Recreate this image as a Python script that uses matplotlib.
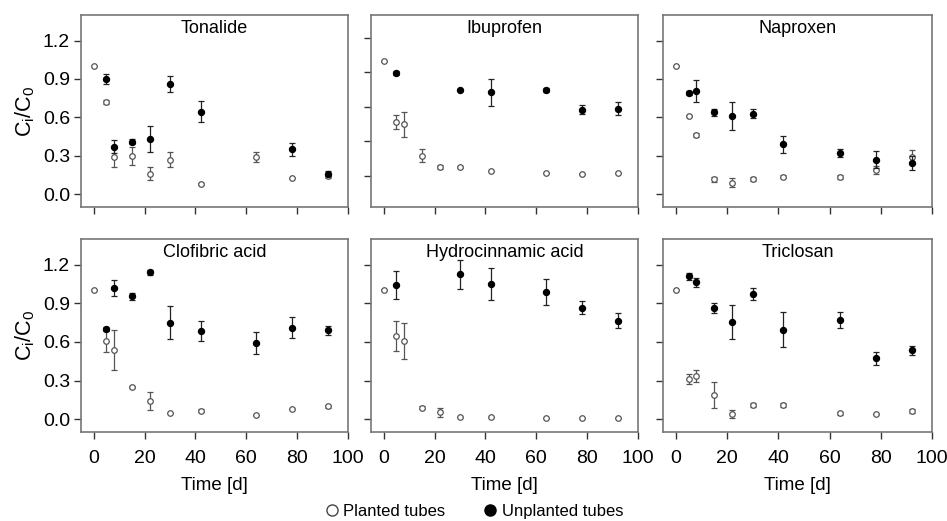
import numpy as np
import matplotlib.pyplot as plt
from matplotlib.lines import Line2D

plt.rcParams['font.family'] = ['Liberation Sans', 'DejaVu Sans']
plt.rcParams['mathtext.default'] = 'regular'

nan = np.nan

# sampling days (same for every compound)
days = [0, 5, 8, 15, 22, 30, 42, 64, 78, 92]

# Ci/C0 means and error bars, planted / unplanted tubes
tonalide_pl = [1.00, 0.72, 0.29, 0.30, 0.16, 0.27, 0.08, 0.29, 0.13, 0.14]
tonalide_pl_err = [0, 0.015, 0.08, 0.07, 0.05, 0.06, 0.01, 0.04, 0, 0.015]
tonalide_un = [nan, 0.90, 0.37, 0.41, 0.43, 0.86, 0.645, nan, 0.35, 0.16]
tonalide_un_err = [0, 0.04, 0.05, 0.02, 0.10, 0.06, 0.08, 0, 0.05, 0.02]

ibuprofen_pl = [1.00, 0.47, 0.45, 0.176, 0.078, 0.078, 0.043, 0.026, 0.02, 0.029]
ibuprofen_pl_err = [0, 0.058, 0.11, 0.057, 0.02, 0.01, 0, 0, 0, 0]
ibuprofen_un = [nan, 0.896, nan, nan, nan, 0.746, 0.726, 0.749, 0.578, 0.584]
ibuprofen_un_err = [0, 0.015, 0, 0, 0, 0.01, 0.12, 0.015, 0.04, 0.058]

naproxen_pl = [1.00, 0.61, 0.46, 0.117, 0.09, 0.117, 0.138, 0.133, 0.19, 0.294]
naproxen_pl_err = [0, 0.01, 0.015, 0.02, 0.035, 0.015, 0.015, 0.015, 0.03, 0.05]
naproxen_un = [nan, 0.79, 0.81, 0.64, 0.61, 0.63, 0.39, 0.32, 0.27, 0.245]
naproxen_un_err = [0, 0.015, 0.086, 0.028, 0.11, 0.036, 0.068, 0.033, 0.064, 0.056]

clofibric_pl = [1.00, 0.61, 0.54, 0.25, 0.14, 0.05, 0.065, 0.036, 0.075, 0.10]
clofibric_pl_err = [0, 0.085, 0.155, 0.01, 0.067, 0, 0.01, 0, 0, 0.01]
clofibric_un = [nan, 0.70, 1.02, 0.955, 1.14, 0.75, 0.686, 0.594, 0.71, 0.69]
clofibric_un_err = [0, 0.015, 0.06, 0.026, 0.02, 0.13, 0.078, 0.085, 0.083, 0.035]

hydrocin_pl = [1.00, 0.645, 0.604, 0.09, 0.052, 0.013, 0.013, 0.008, 0.01, 0.01]
hydrocin_pl_err = [0, 0.116, 0.14, 0.01, 0.035, 0, 0, 0, 0, 0]
hydrocin_un = [nan, 1.045, nan, nan, nan, 1.125, 1.053, 0.99, 0.865, 0.764]
hydrocin_un_err = [0, 0.11, 0, 0, 0, 0.11, 0.125, 0.10, 0.05, 0.057]

triclosan_pl = [1.00, 0.31, 0.335, 0.186, 0.039, 0.11, 0.108, 0.046, 0.039, 0.065]
triclosan_pl_err = [0, 0.04, 0.05, 0.103, 0.033, 0.015, 0.015, 0.01, 0, 0.015]
triclosan_un = [nan, 1.11, 1.063, 0.862, 0.756, 0.973, 0.694, 0.769, 0.472, 0.534]
triclosan_un_err = [0, 0.026, 0.035, 0.04, 0.133, 0.045, 0.137, 0.063, 0.05, 0.035]

titles = ['Tonalide', 'Ibuprofen', 'Naproxen',
          'Clofibric acid', 'Hydrocinnamic acid', 'Triclosan']
panels = [
    (tonalide_pl, tonalide_pl_err, tonalide_un, tonalide_un_err),
    (ibuprofen_pl, ibuprofen_pl_err, ibuprofen_un, ibuprofen_un_err),
    (naproxen_pl, naproxen_pl_err, naproxen_un, naproxen_un_err),
    (clofibric_pl, clofibric_pl_err, clofibric_un, clofibric_un_err),
    (hydrocin_pl, hydrocin_pl_err, hydrocin_un, hydrocin_un_err),
    (triclosan_pl, triclosan_pl_err, triclosan_un, triclosan_un_err),
]

fig = plt.figure(figsize=(9.47, 5.21), dpi=100)
W, H = 947.0, 521.0
lefts = [81, 371, 663]
widths = [267, 267, 269]
tops = [15, 239]
heights = [192, 193]

for i, (title, (pl, pl_err, un, un_err)) in enumerate(zip(titles, panels)):
    r, c = divmod(i, 3)
    ax = fig.add_axes([lefts[c] / W, 1 - (tops[r] + heights[r]) / H,
                       widths[c] / W, heights[r] / H])
    ax.errorbar(days, pl, yerr=pl_err, fmt='o', ms=4.0, mfc='white',
                mec='#555555', mew=0.9, ecolor='#555555', elinewidth=0.9,
                capsize=2.5, capthick=0.9, zorder=2)
    ax.errorbar(days, un, yerr=un_err, fmt='o', ms=4.3, mfc='black',
                mec='black', ecolor='#222222', elinewidth=0.9,
                capsize=2.5, capthick=0.9, zorder=3)
    ax.set_xlim(-5, 100)
    if title == 'Ibuprofen':
        ax.set_ylim(-0.27, 1.4)
    else:
        ax.set_ylim(-0.1, 1.4)
    ax.set_xticks([0, 20, 40, 60, 80, 100])
    ax.set_yticks([0.0, 0.3, 0.6, 0.9, 1.2])
    ax.tick_params(direction='out', length=5, width=1, color='#333333',
                   labelsize=14)
    ax.tick_params(axis='y', pad=3)
    ax.tick_params(axis='x', pad=8)
    for s in ax.spines.values():
        s.set_color('#777777')
        s.set_linewidth(1.2)
    if c == 0:
        ax.set_yticklabels(['0.0', '0.3', '0.6', '0.9', '1.2'])
        ax.set_ylabel(r'$C_i/C_0$', fontsize=15.5, labelpad=4)
    else:
        ax.set_yticklabels([])
    if r == 1:
        ax.set_xlabel('Time [d]', fontsize=13.5, labelpad=7)
    else:
        ax.set_xticklabels([])
    ax.text(0.5, 0.975, title, transform=ax.transAxes, ha='center',
            va='top', fontsize=13)

handles = [
    Line2D([], [], ls='none', marker='o', ms=8, mfc='white', mec='#444444'),
    Line2D([], [], ls='none', marker='o', ms=8, mfc='black', mec='black'),
]
fig.legend(handles, ['Planted tubes', 'Unplanted tubes'], loc='lower center',
           bbox_to_anchor=(0.5, -0.024), ncol=2, frameon=False, fontsize=12,
           handletextpad=0.2, columnspacing=2.2, handlelength=1.0)

fig.savefig('out.png', dpi=100)
